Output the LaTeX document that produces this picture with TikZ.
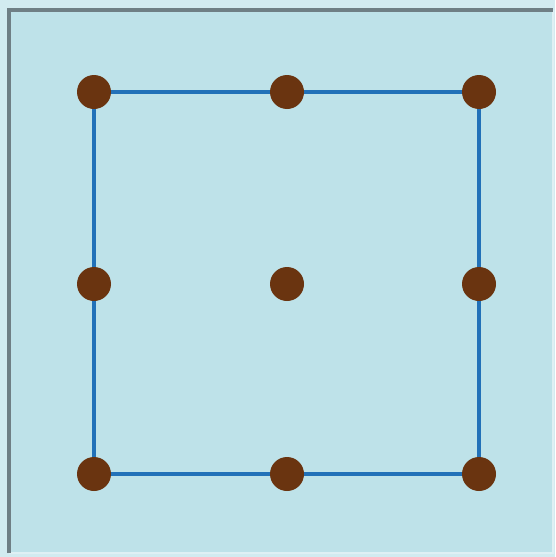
\documentclass[tikz,border=0pt]{standalone}
\definecolor{bgblue}{HTML}{BEE2E9}
\definecolor{frame}{HTML}{6F7F85}
\definecolor{lineblue}{HTML}{2271B8}
\definecolor{dotbrown}{HTML}{6A3410}
\tikzset{
  dot/.style={circle,fill=dotbrown,inner sep=0pt,minimum size=34pt},
  edge/.style={draw=lineblue,line width=4.5pt},
  darkframe/.style={draw=frame,line width=4pt},
  lightframe/.style={draw=bgblue!50!white,line width=2pt}
}
\begin{document}
\begin{tikzpicture}[x=1pt,y=-1pt]
\useasboundingbox (0,0) rectangle (555,557);
\fill[bgblue!70!white] (0,0) rectangle (555,557);
\fill[bgblue] (9,10) rectangle (553,553);
\draw[lightframe] (553,10) -- (553,553) -- (9,553);
\draw[darkframe] (9,553) -- (9,9.5) -- (553,9.5);
\coordinate (a1) at (94,92);
\coordinate (a2) at (287,92);
\coordinate (a3) at (479,92);
\coordinate (b1) at (94,284);
\coordinate (b2) at (287,284);
\coordinate (b3) at (479,284);
\coordinate (c1) at (94,474);
\coordinate (c2) at (287,474);
\coordinate (c3) at (479,474);
\draw[edge] (a1) -- (a2) -- (a3) -- (b3) -- (c3) -- (c2) -- (c1) -- (b1) -- cycle;
\foreach \n in {a1,a2,a3,b1,b2,b3,c1,c2,c3}
  \node[dot] (d\n) at (\n) {};
\end{tikzpicture}
\end{document}
